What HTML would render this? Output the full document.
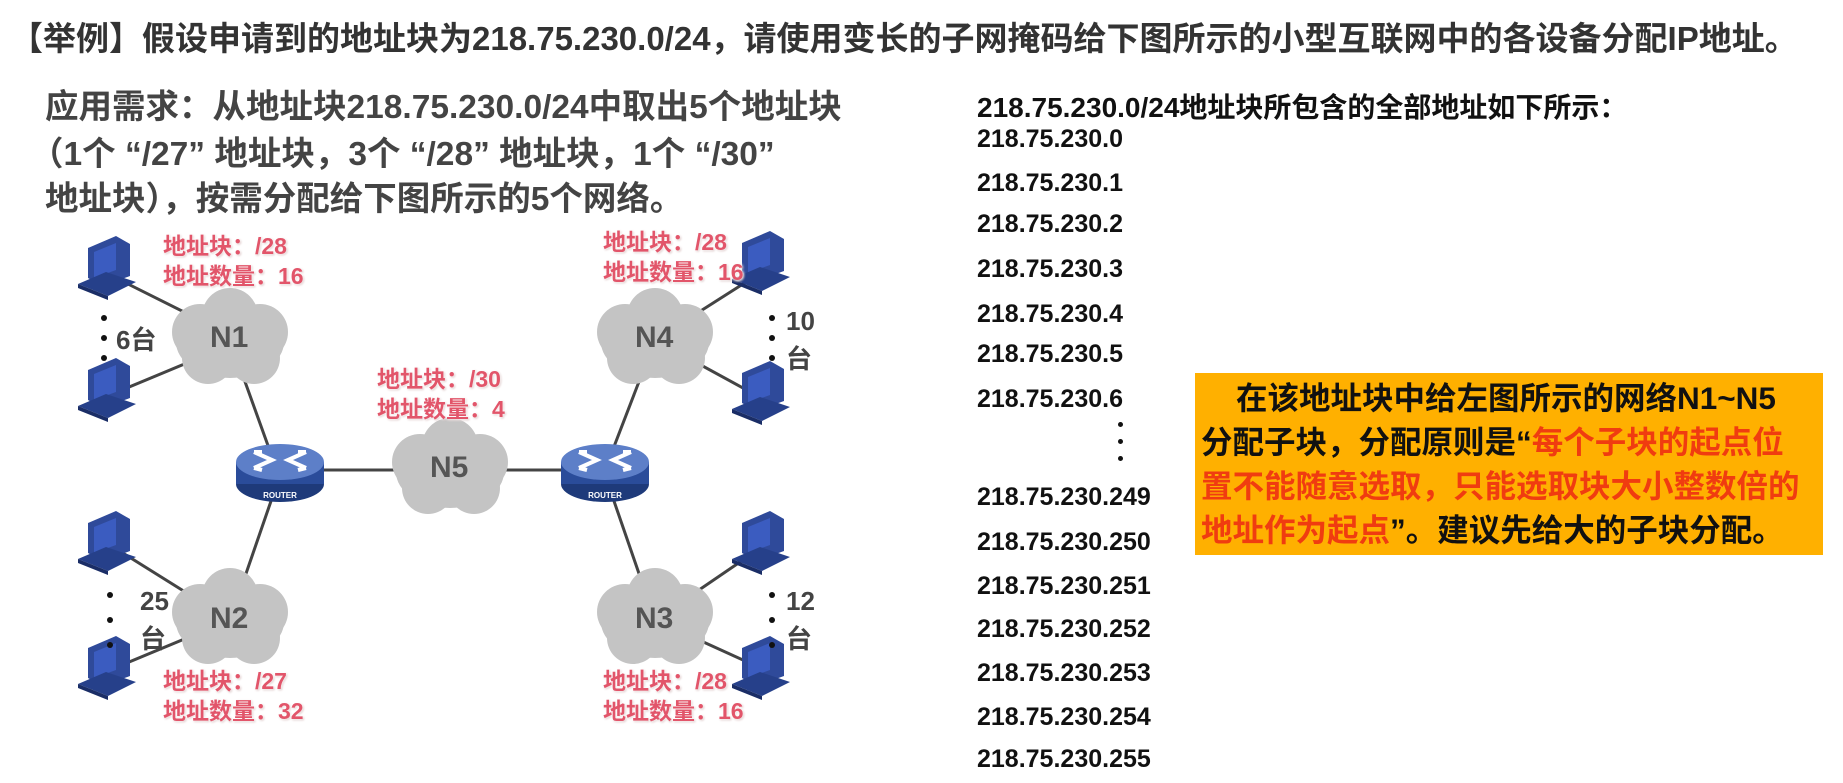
<!DOCTYPE html>
<html><head><meta charset="utf-8"><style>
body{margin:0;width:1843px;height:783px;background:#fff;position:relative;overflow:hidden;font-family:"Liberation Sans","Noto Sans CJK SC",sans-serif;font-weight:bold}
.a{position:absolute;white-space:nowrap}
.t{font-size:33px;color:#333}
.l{font-size:33.5px;color:#444}
.ip{font-size:25px;color:#111;left:977px}
.pk{font-size:23px;color:#e2556a;line-height:30px;text-shadow:0 0 3px #fff,0 0 3px #fff,1px 1px 2px #caa}
.cnt{font-size:26px;color:#444;line-height:38px}
.nl{font-size:30px;color:#555}
</style></head><body>
<div class="a t" style="left:10px;top:12px">【举例】假设申请到的地址块为218.75.230.0/24，请使用变长的子网掩码给下图所示的小型互联网中的各设备分配IP地址。</div>
<div class="a l" style="left:45px;top:79px">应用需求：从地址块218.75.230.0/24中取出5个地址块</div>
<div class="a l" style="left:30px;top:126px">（1个 “/27” 地址块，3个 “/28” 地址块，1个 “/30”</div>
<div class="a l" style="left:45px;top:171px">地址块），按需分配给下图所示的5个网络。</div>

<svg class="a" style="left:0;top:0" width="960" height="783">
<defs>
<g id="cl"><g fill="#c4c4c4">
<circle cx="-30" cy="-8" r="28"/><circle cx="0" cy="-24" r="28"/><circle cx="30" cy="-8" r="28"/><circle cx="24" cy="18" r="26"/><circle cx="-22" cy="18" r="26"/><ellipse cx="0" cy="2" rx="54" ry="36"/></g></g>
<g id="pc"><polygon points="-20,-22 8,-34 22,-26 22,6 -6,16 -20,8" fill="#2f4a9a"/><polygon points="-14,-18 8,-27 8,0 -14,8" fill="#3b5cc0"/><polygon points="-30,14 -2,2 28,12 0,26" fill="#26408a"/><polygon points="-30,14 0,26 0,30 -30,18" fill="#1a2d66"/></g>
<g id="rt"><ellipse cx="0" cy="14" rx="44" ry="18" fill="#1e3a7a"/><rect x="-44" y="-8" width="88" height="22" fill="#2a4c9a"/><ellipse cx="0" cy="-8" rx="44" ry="18" fill="#5d7fc8"/>
<g stroke="#fff" stroke-width="4" fill="none"><path d="M-26,-18 L-8,-10 L-26,-2 M26,-18 L8,-10 L26,-2 M-26,-18 L-18,-18 M26,-18 L18,-18 M-26,-2 L-18,0 M26,-2 L18,0"/></g>
<text x="0" y="28" font-size="8" fill="#fff" text-anchor="middle" font-family="Liberation Sans">ROUTER</text></g>
</defs>
<g stroke="#444" stroke-width="3">
<line x1="110" y1="275" x2="230" y2="335"/><line x1="110" y1="395" x2="230" y2="345"/>
<line x1="230" y1="340" x2="275" y2="465"/><line x1="280" y1="470" x2="450" y2="470"/>
<line x1="450" y1="470" x2="605" y2="470"/><line x1="605" y1="470" x2="655" y2="340"/>
<line x1="655" y1="340" x2="765" y2="270"/><line x1="655" y1="340" x2="765" y2="400"/>
<line x1="280" y1="475" x2="230" y2="620"/><line x1="110" y1="545" x2="230" y2="620"/><line x1="110" y1="670" x2="230" y2="620"/>
<line x1="605" y1="475" x2="655" y2="620"/><line x1="655" y1="620" x2="765" y2="545"/><line x1="655" y1="620" x2="765" y2="670"/>
</g>
<use href="#cl" x="230" y="340"/><use href="#cl" x="450" y="470"/><use href="#cl" x="655" y="340"/><use href="#cl" x="230" y="620"/><use href="#cl" x="655" y="620"/>
<use href="#rt" x="280" y="470"/><use href="#rt" x="605" y="470"/>
<use href="#pc" x="108" y="270"/><use href="#pc" x="108" y="392"/><use href="#pc" x="108" y="545"/><use href="#pc" x="108" y="670"/>
<use href="#pc" x="762" y="265"/><use href="#pc" x="762" y="395"/><use href="#pc" x="762" y="545"/><use href="#pc" x="762" y="670"/>
<g fill="#111"><circle cx="104" cy="318" r="3"/><circle cx="104" cy="338" r="3"/><circle cx="104" cy="358" r="3"/>
<circle cx="110" cy="595" r="3"/><circle cx="110" cy="620" r="3"/><circle cx="110" cy="645" r="3"/>
<circle cx="772" cy="318" r="3"/><circle cx="772" cy="338" r="3"/><circle cx="772" cy="358" r="3"/>
<circle cx="772" cy="595" r="3"/><circle cx="772" cy="620" r="3"/><circle cx="772" cy="645" r="3"/></g>
</svg>
<div class="a nl" style="left:210px;top:321px">N1</div>
<div class="a nl" style="left:430px;top:451px">N5</div>
<div class="a nl" style="left:635px;top:321px">N4</div>
<div class="a nl" style="left:210px;top:602px">N2</div>
<div class="a nl" style="left:635px;top:602px">N3</div>
<div class="a cnt" style="left:116px;top:321px">6台</div>
<div class="a cnt" style="left:140px;top:582px">25<br>台</div>
<div class="a cnt" style="left:786px;top:302px">10<br>台</div>
<div class="a cnt" style="left:786px;top:582px">12<br>台</div>
<div class="a pk" style="left:163px;top:231px">地址块：/28<br>地址数量：16</div>
<div class="a pk" style="left:377px;top:364px">地址块：/30<br>地址数量：4</div>
<div class="a pk" style="left:603px;top:227px">地址块：/28<br>地址数量：16</div>
<div class="a pk" style="left:163px;top:666px">地址块：/27<br>地址数量：32</div>
<div class="a pk" style="left:603px;top:666px">地址块：/28<br>地址数量：16</div>

<div class="a ip" style="top:86px;font-size:28px">218.75.230.0/24地址块所包含的全部地址如下所示：</div>
<div class="a ip" style="top:125px">218.75.230.0</div>
<div class="a ip" style="top:169px">218.75.230.1</div>
<div class="a ip" style="top:210px">218.75.230.2</div>
<div class="a ip" style="top:255px">218.75.230.3</div>
<div class="a ip" style="top:300px">218.75.230.4</div>
<div class="a ip" style="top:340px">218.75.230.5</div>
<div class="a ip" style="top:385px">218.75.230.6</div>
<div class="a" style="left:1118px;top:422px;width:6px;"><div style="width:5px;height:5px;background:#111;border-radius:50%;margin-bottom:12px"></div><div style="width:5px;height:5px;background:#111;border-radius:50%;margin-bottom:12px"></div><div style="width:5px;height:5px;background:#111;border-radius:50%"></div></div>
<div class="a ip" style="top:483px">218.75.230.249</div>
<div class="a ip" style="top:528px">218.75.230.250</div>
<div class="a ip" style="top:572px">218.75.230.251</div>
<div class="a ip" style="top:615px">218.75.230.252</div>
<div class="a ip" style="top:659px">218.75.230.253</div>
<div class="a ip" style="top:703px">218.75.230.254</div>
<div class="a ip" style="top:745px">218.75.230.255</div>

<div class="a" style="left:1195px;top:373px;width:628px;height:182px;background:#ffb000;font-size:31.5px;line-height:44px;color:#111;padding:3px 6px;box-sizing:border-box;white-space:nowrap">
&nbsp;&nbsp;&nbsp;&nbsp;在该地址块中给左图所示的网络N1~N5<br>分配子块，分配原则是“<span style="color:#f03c10">每个子块的起点位<br>置不能随意选取，只能选取块大小整数倍的<br>地址作为起点</span>”。建议先给大的子块分配。</div>
</body></html>
